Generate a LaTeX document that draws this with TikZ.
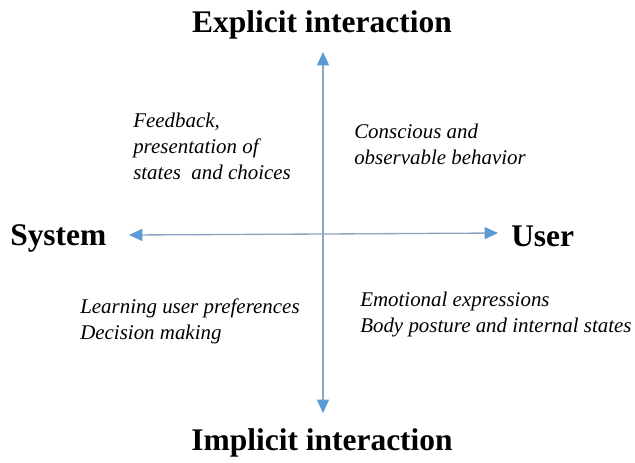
\documentclass[tikz,border=0pt]{standalone}
\usepackage{fontspec}
\setmainfont{Liberation Serif}
\usetikzlibrary{arrows.meta}
\definecolor{axisline}{HTML}{8EA3BE}
\definecolor{axishead}{HTML}{5B9BD5}
\begin{document}
\begin{tikzpicture}[x=0.75pt,y=-0.75pt,
  axis/.style={draw=axisline,line width=1pt,-{Triangle[length=10pt,width=9pt,fill=axishead,color=axishead]}},
  bigtitle/.style={font=\bfseries\fontsize{23.6}{28}\selectfont,inner sep=0pt},
  note/.style={font=\itshape\fontsize{15.7}{19.5}\selectfont,align=left,anchor=west,inner sep=0pt}]
\useasboundingbox (0,0) rectangle (635,462);
\coordinate (c) at (323,234);
\coordinate (top) at (323,52);
\coordinate (bot) at (323,413);
\coordinate (left) at (129,235);
\coordinate (right) at (498,233);
\draw[axis] (c) -- (top);
\draw[axis] (c) -- (bot);
\draw[axis] (c) -- (left);
\draw[axis] (c) -- (right);
\node[bigtitle] (explicit) at (322,25) {Explicit interaction};
\node[bigtitle] (implicit) at (322,443) {Implicit interaction};
\node[bigtitle,anchor=west] (system) at (10,238) {System};
\node[bigtitle,anchor=west] (user) at (511,236) {User};
\node[note] (fb) at (133,146) {Feedback,\\presentation of\\states~ and choices};
\node[note] (cons) at (354,144) {Conscious and\\observable behavior};
\node[note] (learn) at (80,321) {Learning user preferences\\Decision making};
\node[note] (emo) at (360,314) {Emotional expressions\\Body posture and internal states};
\end{tikzpicture}
\end{document}
